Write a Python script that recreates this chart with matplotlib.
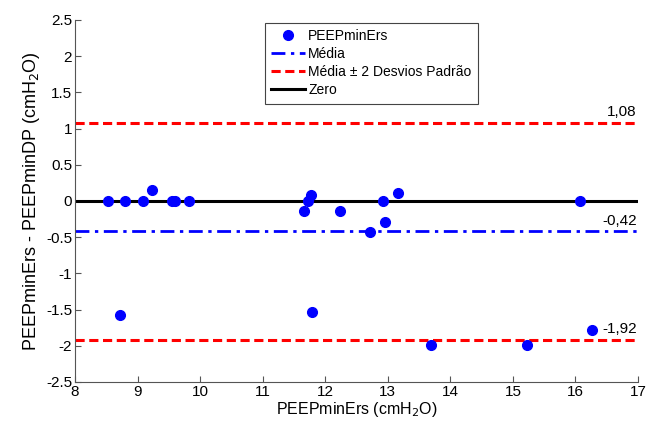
import numpy as np
import matplotlib
matplotlib.use("Agg")
import matplotlib.pyplot as plt

plt.rcParams['font.family'] = ['Liberation Sans', 'DejaVu Sans']

# PEEPminErs (x) and difference PEEPminErs - PEEPminDP (y)
peep_ers = [8.53, 8.80, 9.09, 9.23, 9.55, 9.60, 9.82, 8.72,
            11.66, 11.72, 11.77, 11.79, 12.23, 12.71, 12.92, 12.95,
            13.16, 16.08, 13.69, 15.22, 16.26]
diff = [0.0, 0.0, 0.0, 0.15, 0.0, 0.0, 0.0, -1.57,
        -0.14, 0.0, 0.08, -1.53, -0.14, -0.43, 0.0, -0.29,
        0.11, 0.0, -1.99, -1.99, -1.78]

mean_diff = -0.42
upper = 1.08
lower = -1.92
x_range = [8, 17]

fig = plt.figure(figsize=(6.56, 4.28), dpi=100)
ax = fig.add_axes([0.1143, 0.1075, 0.8583, 0.8458])

ax.plot(peep_ers, diff, 'o', color='#0000ff', markersize=7, label='PEEPminErs', zorder=5)
ax.plot(x_range, [mean_diff, mean_diff], color='#0000ff', linestyle=(0, (5, 2, 1.2, 2)),
        linewidth=2, label='Média')
ax.plot(x_range, [upper, upper], color='#ff0000', linestyle=(0, (3, 1.5)),
        linewidth=2.2, label='Média ± 2 Desvios Padrão')
ax.plot(x_range, [lower, lower], color='#ff0000', linestyle=(0, (3, 1.5)), linewidth=2.2)
ax.plot(x_range, [0, 0], color='black', linewidth=2.2, label='Zero')

ax.text(16.98, upper + 0.05, '1,08', ha='right', va='bottom', fontsize=11)
ax.text(16.98, mean_diff + 0.05, '-0,42', ha='right', va='bottom', fontsize=11)
ax.text(16.98, lower + 0.05, '-1,92', ha='right', va='bottom', fontsize=11)

ax.set_xlim(8, 17)
ax.set_ylim(-2.5, 2.5)
ax.set_xticks(np.arange(8, 18, 1))
ax.set_yticks(np.arange(-2.5, 2.51, 0.5))
ax.set_yticklabels(['-2.5', '-2', '-1.5', '-1', '-0.5', '0', '0.5', '1', '1.5', '2', '2.5'])
ax.tick_params(labelsize=11, direction='in', length=4, color='#555555', pad=2)
for s in ['top', 'right']:
    ax.spines[s].set_visible(False)
for s in ['left', 'bottom']:
    ax.spines[s].set_color('#555555')

ax.set_xlabel('PEEPminErs (cmH$_2$O)', fontsize=11.5, labelpad=1)
ax.set_ylabel('PEEPminErs - PEEPminDP (cmH$_2$O)', fontsize=13, labelpad=3)

leg = ax.legend(loc='upper center', bbox_to_anchor=(0.526, 1.012), fontsize=10,
                fancybox=False, edgecolor='#444444', framealpha=1,
                handlelength=2.5, handletextpad=0.2, borderpad=0.45, labelspacing=0.3)
leg.get_frame().set_linewidth(0.8)

fig.savefig('out.png', dpi=100)
